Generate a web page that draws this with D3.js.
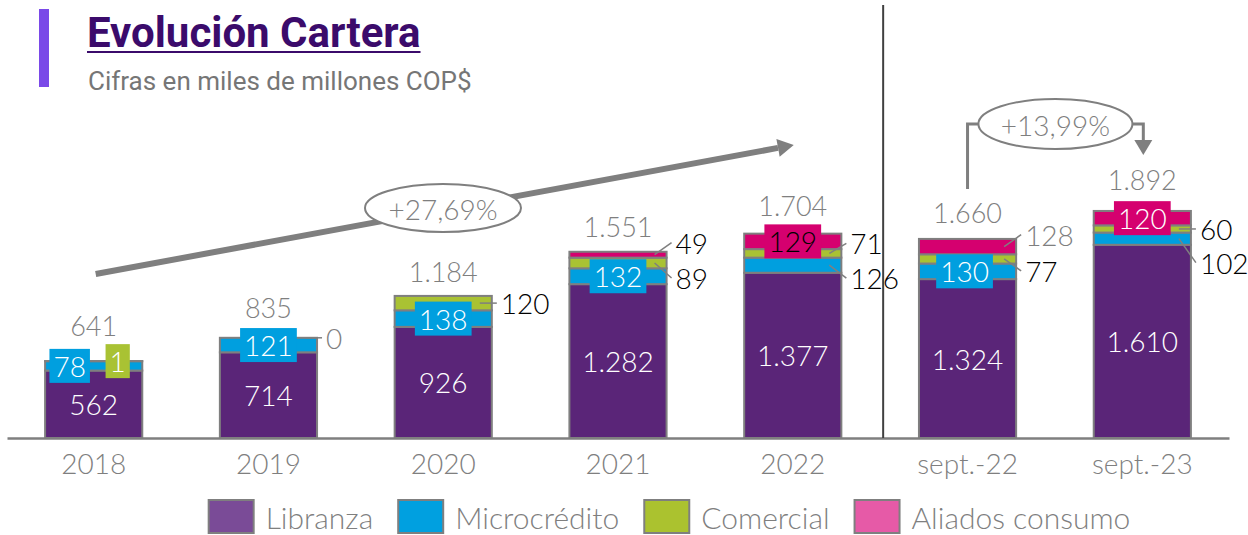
<!DOCTYPE html>
<html>
<head>
<meta charset="utf-8">
<script src="https://cdn.jsdelivr.net/npm/d3@7"></script>
<style>
	body { margin: 0; background: #fff; }
	svg { display: block; }
	text { font-family: Lato, "Open Sans", sans-serif; font-weight: 300; }
</style>
</head>
<body>
<div id="chart"></div>
<script>
// datos (miles de millones COP$)
const categories = ["2018", "2019", "2020", "2021", "2022", "sept.-22", "sept.-23"];
const libranza = [562, 714, 926, 1282, 1377, 1324, 1610];
const microcredito = [78, 121, 138, 132, 126, 130, 102];
const comercial = [1, 0, 120, 89, 71, 77, 60];
const aliados = [0, 0, 0, 49, 129, 128, 120];
const totals = [641, 835, 1184, 1551, 1704, 1660, 1892];
const seriesNames = ["Libranza", "Microcrédito", "Comercial", "Aliados consumo"];
const growthLabels = ["+27,69%", "+13,99%"];

const W = 1248, H = 535;
const BASE = 438;

const barColor = {
	"Libranza": "#5a2578",
	"Microcrédito": "#009fdf",
	"Comercial": "#a9c233",
	"Aliados consumo": "#d5006f",
};
const legendColor = {
	"Libranza": "#7a4b97",
	"Microcrédito": "#00a0e0",
	"Comercial": "#abc22f",
	"Aliados consumo": "#e65aa7",
};
const GRAY = "#7f7f7f";

// how each segment label is placed: box = coloured tag on the bar, out = callout to the right
const labelPlan = {
	"2018": { "Microcrédito": ["box", -24], "Comercial": ["box", 24] },
	"2019": { "Microcrédito": ["box", 0], "Comercial": ["out", 0, GRAY] },
	"2020": { "Microcrédito": ["box", 0], "Comercial": ["out", 0] },
	"2021": { "Microcrédito": ["box", 0], "Comercial": ["out", 15], "Aliados consumo": ["out", -12] },
	"2022": { "Microcrédito": ["out", 13], "Comercial": ["out", -10], "Aliados consumo": ["box", 0, "#000"] },
	"sept.-22": { "Microcrédito": ["box", -3], "Comercial": ["out", 12], "Aliados consumo": ["out", -12, GRAY] },
	"sept.-23": { "Microcrédito": ["out", 24], "Comercial": ["out", 0], "Aliados consumo": ["box", 0] },
};
const totalGap = [25, 20, 14, 15, 18, 16, 21];

const fmt = d3.formatLocale({ decimal: ",", thousands: ".", grouping: [3], currency: ["", ""] }).format(",d");

const rows = categories.map((c, i) => ({
	cat: c,
	"Libranza": libranza[i],
	"Microcrédito": microcredito[i],
	"Comercial": comercial[i],
	"Aliados consumo": aliados[i],
}));
const stacked = d3.stack().keys(seriesNames)(rows);

const svg = d3.select("#chart").append("svg").attr("width", W).attr("height", H);

const x = d3.scaleBand().domain(categories).range([7, 1229]).paddingInner(0.444).paddingOuter(0.218);
const y = d3.scaleLinear().domain([0, 3650]).range([BASE, 0]);

// title block
svg.append("rect").attr("x", 39).attr("y", 9).attr("width", 10).attr("height", 78).attr("fill", "#7a49e8");
const title = svg.append("text")
	.attr("x", 87).attr("y", 47)
	.style("font-family", "Roboto, sans-serif").style("font-weight", 700)
	.style("font-size", "42px").attr("fill", "#3b0b6b")
	.text("Evolución Cartera");
const tw = title.node().getComputedTextLength();
svg.append("line").attr("x1", 87).attr("x2", 87 + tw).attr("y1", 52).attr("y2", 52)
	.attr("stroke", "#3b0b6b").attr("stroke-width", 2);
svg.append("text")
	.attr("x", 88).attr("y", 90)
	.style("font-family", "Roboto, sans-serif").style("font-weight", 400)
	.style("font-size", "26px").attr("fill", "#767676")
	.text("Cifras en miles de millones COP$");

// bars
svg.append("g")
	.selectAll("g")
	.data(stacked)
	.join("g")
	.attr("fill", (d) => barColor[d.key])
	.selectAll("rect")
	.data((d) => d.filter((p) => p[1] - p[0] > 0))
	.join("rect")
	.attr("x", (d) => x(d.data.cat))
	.attr("y", (d) => y(d[1]))
	.attr("width", x.bandwidth())
	.attr("height", (d) => y(d[0]) - y(d[1]))
	.attr("stroke", GRAY)
	.attr("stroke-width", 2);

// axis
const axis = svg.append("g")
	.attr("transform", `translate(0, ${BASE})`)
	.call(d3.axisBottom(x).tickSize(0).tickSizeOuter(0).tickPadding(16));
axis.select(".domain").attr("stroke", GRAY).attr("stroke-width", 2.5);
axis.selectAll("text")
	.style("font-family", "Lato, sans-serif").style("font-weight", 300)
	.style("font-size", "28px").attr("fill", GRAY);

// divider between years and months
const divX = x("sept.-22") - (x.step() - x.bandwidth()) / 2 + 3;
svg.append("line").attr("x1", divX).attr("x2", divX).attr("y1", 5).attr("y2", BASE)
	.attr("stroke", "#404040").attr("stroke-width", 2);

// segment labels
const labels = svg.append("g").style("font-size", "28px");
stacked.forEach((s) => {
	s.forEach((p) => {
		const cat = p.data.cat;
		const v = p[1] - p[0];
		const cx = x(cat) + x.bandwidth() / 2;
		const cy = (y(p[0]) + y(p[1])) / 2;
		const right = x(cat) + x.bandwidth();
		if (s.key === "Libranza") {
			labels.append("text")
				.attr("x", cx).attr("y", cy)
				.attr("text-anchor", "middle").attr("dominant-baseline", "central")
				.attr("fill", "#fff").text(fmt(v));
			return;
		}
		const plan = (labelPlan[cat] || {})[s.key];
		if (!plan) return;
		const [mode, off, color] = plan;
		if (mode === "box") {
			const g = labels.append("g");
			const r = g.append("rect");
			const t = g.append("text")
				.attr("x", cx + off).attr("y", cy)
				.attr("text-anchor", "middle").attr("dominant-baseline", "central")
				.attr("fill", color || "#fff").text(fmt(v));
			const w = t.node().getComputedTextLength() + 8;
			r.attr("x", cx + off - w / 2).attr("y", cy - 17)
				.attr("width", w).attr("height", 34)
				.attr("fill", barColor[s.key]);
		} else {
			labels.append("line")
				.attr("x1", right - 12).attr("y1", cy)
				.attr("x2", right + 5).attr("y2", cy + off)
				.attr("stroke", GRAY).attr("stroke-width", 1.5);
			labels.append("text")
				.attr("x", right + 9).attr("y", cy + off)
				.attr("dominant-baseline", "central")
				.attr("fill", color || "#000").text(fmt(v));
		}
	});
});

// totals
svg.append("g")
	.selectAll("text")
	.data(totals)
	.join("text")
	.attr("x", (d, i) => x(categories[i]) + x.bandwidth() / 2)
	.attr("y", (d, i) => y(d) - totalGap[i])
	.attr("text-anchor", "middle")
	.style("font-size", "27px")
	.attr("fill", GRAY)
	.text((d) => fmt(d));

// growth arrow 2018 -> 2022
function arrowHead(g, x1, y1, x2, y2, len, half) {
	const a = Math.atan2(y2 - y1, x2 - x1);
	const bx = x2 - len * Math.cos(a), by = y2 - len * Math.sin(a);
	const px = -Math.sin(a) * half, py = Math.cos(a) * half;
	g.append("path")
		.attr("d", `M${x2},${y2}L${bx + px},${by + py}L${bx - px},${by - py}Z`)
		.attr("fill", GRAY);
	return [bx, by];
}
const ann = svg.append("g");
const ax1 = x("2018") + x.bandwidth() / 2 + 2, ay1 = 274;
const ax2 = x("2022") + x.bandwidth() / 2 + 1, ay2 = 145;
const [abx, aby] = arrowHead(ann, ax1, ay1, ax2, ay2, 16, 9);
ann.insert("line", "path")
	.attr("x1", ax1).attr("y1", ay1).attr("x2", abx).attr("y2", aby)
	.attr("stroke", GRAY).attr("stroke-width", 6);
ann.append("ellipse").attr("cx", 443).attr("cy", 208).attr("rx", 78).attr("ry", 24)
	.attr("fill", "#fff").attr("stroke", GRAY).attr("stroke-width", 2);
ann.append("text").attr("x", 443).attr("y", 209)
	.attr("text-anchor", "middle").attr("dominant-baseline", "central")
	.style("font-size", "28px").attr("fill", GRAY).text(growthLabels[0]);

// elbow sept.-22 -> sept.-23
const ex1 = x("sept.-22") + x.bandwidth() / 2;
const ex2 = x("sept.-23") + x.bandwidth() / 2 + 1;
const eCx = (ex1 + ex2) / 2;
ann.append("path")
	.attr("d", `M${ex1},189V124H${ex2}V141`)
	.attr("fill", "none").attr("stroke", GRAY).attr("stroke-width", 3);
ann.append("path")
	.attr("d", `M${ex2},155L${ex2 - 9},140L${ex2 + 9},140Z`)
	.attr("fill", GRAY);
ann.append("ellipse").attr("cx", eCx).attr("cy", 124).attr("rx", 77).attr("ry", 25)
	.attr("fill", "#fff").attr("stroke", GRAY).attr("stroke-width", 2);
ann.append("text").attr("x", eCx).attr("y", 125)
	.attr("text-anchor", "middle").attr("dominant-baseline", "central")
	.style("font-size", "28px").attr("fill", GRAY).text(growthLabels[1]);

// legend
const legend = svg.append("g").attr("transform", "translate(0, 499)");
let lx = 0;
seriesNames.forEach((name) => {
	const g = legend.append("g");
	g.append("rect").attr("x", 1).attr("y", 1).attr("width", 45).attr("height", 33)
		.attr("fill", legendColor[name]).attr("stroke", GRAY).attr("stroke-width", 2);
	const t = g.append("text").attr("x", 58).attr("y", 18)
		.attr("dominant-baseline", "central")
		.style("font-size", "30px").attr("fill", GRAY).text(name);
	const w = 58 + t.node().getComputedTextLength();
	g.attr("transform", `translate(${lx}, 0)`);
	lx += w + 24;
});
const legendW = lx - 24;
legend.attr("transform", `translate(${670 - legendW / 2 - 1}, 499)`);
</script>
</body>
</html>
